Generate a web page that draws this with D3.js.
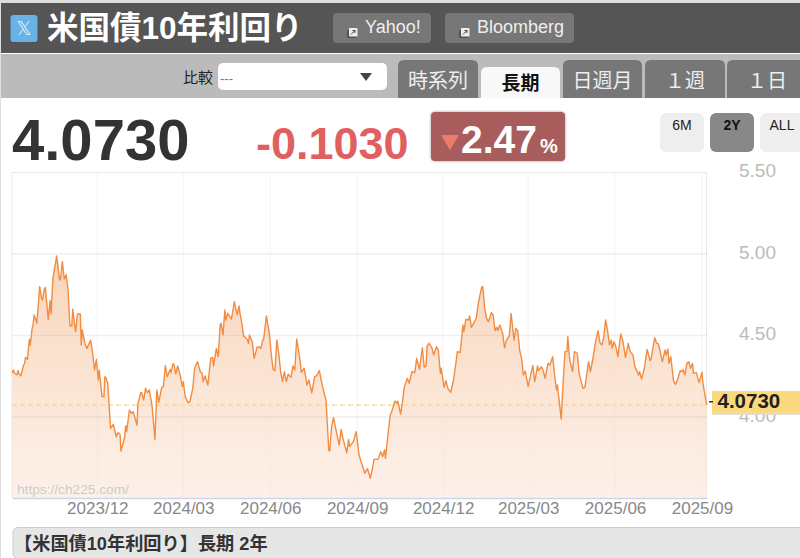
<!DOCTYPE html>
<html><head><meta charset="utf-8">
<script src="https://cdn.jsdelivr.net/npm/d3@7/dist/d3.min.js"></script>
<style>html,body{margin:0;padding:0;background:#fff;overflow:hidden}svg{display:block}</style>
</head><body><div id="c"></div>
<script>
const titleText="米国債10年利回り";
const linkLabels=["Yahoo!","Bloomberg"];
const tabLabels=["時系列","長期","日週月","１週","１日"];
const rangeLabels=["6M","2Y","ALL"];
const lastPrice="4.0730", change="-0.1030", changePct="2.47";
const footerText="【米国債10年利回り】長期 2年";
const startDate=new Date(Date.UTC(2023,8,2));
const endDate=new Date(Date.UTC(2025,8,6));
const tickDates=[[2023,11],[2024,2],[2024,5],[2024,8],[2024,11],[2025,2],[2025,5],[2025,8]].map(([y,m])=>new Date(Date.UTC(y,m,1)));
const yTicks=[5.5,5,4.5,4];
const lastValue=4.073;
const dayOffsets=[0,1,3,5,6,7,9,12,13,14,16,18,19,21,22,23,25,26,29,31,32,34,35,38,40,41,43,47,50,51,53,55,57,59,61,63,64,66,67,69,72,73,74,77,79,83,85,87,89,91,92,95,97,98,99,101,104,107,110,112,114,115,119,120,121,124,126,128,132,133,136,137,139,141,143,145,148,151,153,155,158,160,162,164,167,168,170,171,173,175,178,180,181,183,186,188,191,193,196,199,201,202,204,207,210,212,213,216,218,220,221,223,225,226,228,232,235,238,240,
241,243,245,247,249,250,251,254,256,259,261,263,265,266,269,272,274,276,278,280,282,284,286,288,290,292,295,297,299,301,304,306,309,312,314,316,317,320,322,325,328,332,335,336,338,340,343,346,348,350,354,356,357,361,364,367,370,371,373,376,379,383,387,390,392,394,395,397,400,402,405,407,408,411,413,415,418,420,423,426,428,431,434,436,438,439,441,444,446,449,451,453,454,457,459,461,464,467,470,471,474,477,478,480,483,484,486,491,493,495,
497,498,500,502,504,507,509,511,513,514,516,519,521,523,526,528,531,533,535,537,539,541,543,546,549,551,553,556,557,560,562,564,567,569,572,574,576,577,581,583,585,587,588,590,593,595,598,600,604,606,610,612,615,617,620,622,624,626,628,630,632,634,635,637,639,641,644,646,649,652,654,657,659,663,664,666,669,672,675,676,678,680,682,684,688,691,692,694,695,697,700,702,704,707,709,710,712,714,716,718,720,721,724,727,730,731,735];
const yields=[4.268,4.288,4.264,4.258,4.286,4.268,4.252,4.319,4.329,4.366,4.354,4.476,4.442,4.544,4.564,4.626,4.595,4.575,4.800,4.728,4.718,4.789,4.795,4.599,4.714,4.632,4.851,4.988,4.840,4.845,4.953,4.845,4.873,4.779,4.558,4.558,4.661,4.564,4.524,4.632,4.632,4.442,4.534,4.448,4.421,4.472,4.391,4.288,4.354,4.227,4.288,4.125,4.125,4.247,4.243,4.207,3.930,3.955,3.879,3.904,3.896,3.791,3.879,3.945,3.910,4.043,4.022,4.033,3.951,4.084,4.149,4.149,4.104,4.176,4.149,4.166,4.063,3.863,4.166,4.090,4.176,4.190,4.317,4.247,4.292,4.272,4.325,4.325,4.264,4.313,4.247,4.186,4.217,4.125,4.088,4.094,4.176,4.299,4.339,4.278,4.268,4.217,4.252,4.196,4.360,4.366,4.313,4.421,4.370,4.564,4.575,4.503,4.656,4.595,4.636,4.601,4.708,4.626,4.681,
4.636,4.575,4.493,4.489,4.472,4.452,4.503,4.462,4.360,4.427,4.431,4.421,4.472,4.476,4.620,4.513,4.391,4.292,4.284,4.472,4.391,4.278,4.217,4.278,4.217,4.262,4.243,4.313,4.288,4.479,4.370,4.274,4.299,4.196,4.227,4.176,4.149,4.247,4.252,4.284,4.196,4.104,3.798,3.791,3.941,3.996,3.910,3.828,3.924,3.869,3.781,3.863,3.818,3.849,3.910,3.767,3.712,3.695,3.654,3.683,3.624,3.740,3.740,3.787,3.757,3.798,3.746,3.859,4.012,4.039,4.098,4.084,4.098,4.018,4.094,4.186,4.237,4.207,4.278,4.272,4.360,4.292,4.425,4.305,4.313,4.436,4.452,4.427,4.380,4.431,4.411,4.268,4.299,4.182,4.223,4.176,4.151,4.227,4.350,4.401,4.395,4.564,4.524,4.599,4.595,4.620,4.550,4.605,4.687,4.748,
4.800,4.800,4.667,4.605,4.585,4.640,4.626,4.530,4.550,4.530,4.564,4.513,4.425,4.472,4.497,4.636,4.472,4.544,4.530,4.411,4.360,4.258,4.282,4.186,4.268,4.315,4.217,4.313,4.284,4.309,4.284,4.237,4.329,4.319,4.370,4.258,4.166,4.196,3.988,4.207,4.401,4.401,4.493,4.350,4.278,4.401,4.391,4.268,4.176,4.180,4.339,4.278,4.374,4.452,4.530,4.456,4.442,4.487,4.595,4.534,4.442,4.472,4.421,4.462,4.427,4.370,4.509,4.476,4.366,4.452,4.401,4.380,4.309,4.258,4.278,4.233,4.299,4.415,4.346,4.354,4.421,4.487,4.452,4.448,4.339,4.411,4.380,4.417,4.329,4.370,4.217,4.200,4.227,4.284,4.278,4.292,4.258,4.329,4.339,4.299,4.329,4.268,4.272,4.211,4.274,4.207,4.073];

const W=800,H=558;
const LATIN='"Liberation Sans",Arial,sans-serif';
const CJK='"Liberation Sans","Noto Sans CJK JP",sans-serif';
const svg=d3.select("#c").append("svg").attr("width",W).attr("height",H);
const rect=(x,y,w,h,f,r=0)=>svg.append("rect").attr("x",x).attr("y",y).attr("width",w).attr("height",h).attr("fill",f).attr("rx",r).attr("ry",r);
const text=(x,y,s,size,f,o={})=>svg.append("text").attr("x",x).attr("y",y).text(s).attr("font-size",size).attr("fill",f)
  .attr("font-family",o.family||CJK).attr("font-weight",o.weight||"normal").attr("text-anchor",o.anchor||"start");

// header chrome
rect(0,0,W,3,"#dedede");
rect(1,3,W,50,"#555");
rect(1,54,W,44,"#bbb");
rect(0,3,1,H,"#dedede");
rect(10.5,15,27,27,"#69b2e6",3);
text(24,35,"𝕏",19,"#dcecf8",{anchor:"middle",family:'"DejaVu Sans",sans-serif'});
text(47,39,titleText,31.5,"#fff",{weight:"bold"});
const linkBox=[[333,98,349],[445,129,461]];
linkLabels.forEach((l,i)=>{
  const [x,w,tx]=linkBox[i];
  rect(x,13,w,30,"#777",4);
  rect(tx-2,30,9,8,"#555",1);
  rect(tx,28,8.5,8.5,"#eee",1);
  svg.append("path").attr("d",`M${tx+2} ${34.5}L${tx+6} ${30.5}M${tx+3.5} ${30.5}H${tx+6}V${33}`).attr("fill","none").attr("stroke","#444").attr("stroke-width",1);
  text(tx+16,33,l,18,"#eee",{family:LATIN});
});
text(183,83,"比較",15,"#222");
rect(218,63,169,27,"#fff",5);
text(220,83,"---",13,"#777",{family:LATIN});
svg.append("path").attr("d","M360 73h12l-6 8z").attr("fill","#444");
const tabX=[[398,80],[481,79],[563,79],[645,80],[727,80]];
tabLabels.forEach((t,i)=>{
  const [x,w]=tabX[i], active=i===1, top=active?67:60;
  svg.append("path").attr("d",`M${x} 98V${top+6}q0-6 6-6H${x+w-6}q6 0 6 6V98z`).attr("fill",active?"#f8f8f8":"#777");
  text(x+w/2,active?90:88,t,active?19:20,active?"#111":"#eee",{anchor:"middle",weight:active?"bold":"normal"});
});
// quote row
text(12,160,lastPrice,58,"#333",{weight:"bold",family:LATIN});
text(256,159,change,45,"#e06060",{weight:"bold",family:LATIN});
rect(429.5,110.5,137,52,"#ddd",6);
rect(431,112,134,49,"#a85c5c",4);
svg.append("path").attr("d","M441 135h18l-9 15z").attr("fill","#ee7c6c");
text(461,153,changePct,39,"#fff",{weight:"bold",family:LATIN});
text(540,153,"%",20,"#fff",{weight:"bold",family:LATIN});
const rangeX=[660,710,760];
rangeLabels.forEach((t,i)=>{
  rect(rangeX[i],113,44,39,i===1?"#888":"#eee",6);
  text(rangeX[i]+22,130,t,14,i===1?"#111":"#222",{anchor:"middle",family:LATIN,weight:i===1?"bold":"normal"});
});

// chart
const x=d3.scaleUtc().domain([startDate,endDate]).range([12.3,706.7]);
const y=d3.scaleLinear().domain([3.5,5.5]).range([498.5,172.5]);
const pts=dayOffsets.map((d,i)=>({date:d3.utcDay.offset(startDate,d),v:yields[i]}));
const grad=svg.append("defs").append("linearGradient").attr("id","g")
  .attr("gradientUnits","userSpaceOnUse").attr("x1",0).attr("x2",0).attr("y1",y(5)).attr("y2",y(3.5));
grad.append("stop").attr("offset",0).attr("stop-color","#f7c9a6").attr("stop-opacity",.8);
grad.append("stop").attr("offset",1).attr("stop-color","#fbe4d6").attr("stop-opacity",.55);

// frame and grid
svg.append("g").selectAll("line").data(tickDates).join("line")
  .attr("x1",d=>x(d)).attr("x2",d=>x(d)).attr("y1",172).attr("y2",498).attr("stroke","#f4f4f4");
svg.append("path").attr("d","M12 498V172.5H706.5V498").attr("fill","none").attr("stroke","#e8e8e8");
svg.append("path").datum(pts).attr("fill","url(#g)")
  .attr("d",d3.area().x(d=>x(d.date)).y0(y(3.5)).y1(d=>y(d.v)));
svg.append("g").selectAll("line").data(yTicks.slice(1)).join("line")
  .attr("x1",12).attr("x2",707).attr("y1",d=>y(d)).attr("y2",d=>y(d)).attr("stroke","#999").attr("stroke-opacity",.16).attr("stroke-width",1.5);
svg.append("line").attr("x1",12).attr("x2",707).attr("y1",y(lastValue)).attr("y2",y(lastValue))
  .attr("stroke","#fbd57f").attr("stroke-width",1.3).attr("stroke-dasharray","5 3");
svg.append("path").datum(pts).attr("fill","none").attr("stroke","#f28c42").attr("stroke-width",1.4).attr("stroke-linejoin","round")
  .attr("d",d3.line().x(d=>x(d.date)).y(d=>y(d.v)));
text(17,494,"https://ch225.com/",13.7,"#ccc",{family:LATIN});

const xAxis=svg.append("g").attr("transform","translate(0,498)")
  .call(d3.axisBottom(x).tickValues(tickDates).tickFormat(d3.utcFormat("%Y/%m")).tickSize(0).tickPadding(4));
xAxis.select(".domain").attr("stroke","#cbd6e6").attr("stroke-width",1.5);
xAxis.selectAll("text").attr("font-size",17).attr("fill","#888").attr("font-family",LATIN);
const yAxis=svg.append("g").attr("transform","translate(739,-2)")
  .call(d3.axisRight(y).tickValues(yTicks).tickFormat(d3.format(".2f")).tickSize(0).tickPadding(0));
yAxis.select(".domain").remove();
yAxis.selectAll("text").attr("font-size",19).attr("fill","#bbb").attr("font-family",LATIN);

// last price tag
rect(712,392,88,23,"#ddd");
rect(712,391,88,22,"#fad97f");
rect(709,401,4,1.5,"#333");
text(717.5,408,lastPrice,20.5,"#222",{weight:"bold",family:LATIN});

// footer
rect(13,527.5,W,31,"#e6e6e6",5).attr("stroke","#ccc");
text(14,550,footerText,18.2,"#333",{weight:"bold"});
</script></body></html>
